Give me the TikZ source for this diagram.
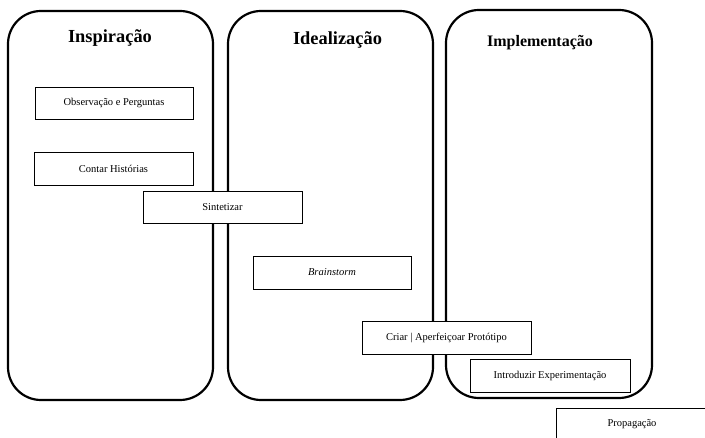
\documentclass[tikz,border=0pt]{standalone}
\usepackage{fontspec}
\setmainfont{Liberation Serif}
\usepackage{tikz}
\usetikzlibrary{positioning}

\tikzset{
    phase/.style={draw, line width=2.2pt, rounded corners=33pt, minimum width=205pt, minimum height=389pt},
    stepbox/.style={draw, line width=0.9pt, fill=white, minimum width=159pt, minimum height=33pt, font=\fontsize{10.5}{12}\selectfont},
    phasetitle/.style={anchor=base, font=\fontsize{18.4}{20}\selectfont\bfseries}
}

\begin{document}
\begin{tikzpicture}[x=1pt, y=-1pt]
    \useasboundingbox (0,0) rectangle (705,438);
    \clip (0,0) rectangle (705,438);

    % Phases
    \node[phase] (inspiracao) at (110.5, 205.5) {};
    \node[phase] (idealizacao) at (330.5, 205.5) {};
    \node[phase, minimum width=206pt, minimum height=388pt] (implementacao) at (549, 204) {};

    % Phase titles
    \node[phasetitle] (tinsp) at (110, 43) {Inspiração};
    \node[phasetitle] (tideal) at (337.5, 45) {Idealização};
    \node[phasetitle, font=\fontsize{16}{18}\selectfont\bfseries] (timpl) at (540, 47) {Implementação};

    % Steps
    \node[stepbox, minimum width=158pt, minimum height=32pt] (observacao) at (114, 103) {Observação e Perguntas};
    \node[stepbox] (historias) at (113.5, 168.5) {Contar Histórias};
    \node[stepbox, minimum height=32pt] (sintetizar) at (222.5, 207) {Sintetizar};
    \node[stepbox, minimum width=158pt] (brainstorm) at (332, 272.5) {\itshape Brainstorm};
    \node[stepbox, minimum width=169pt] (prototipo) at (446.5, 337.5) {Criar | Aperfeiçoar Protótipo};
    \node[stepbox, minimum width=160pt] (experimentacao) at (550, 375.5) {Introduzir Experimentação};
    \node[stepbox, minimum width=152pt] (propagacao) at (632, 424.5) {Propagação};

\end{tikzpicture}
\end{document}
